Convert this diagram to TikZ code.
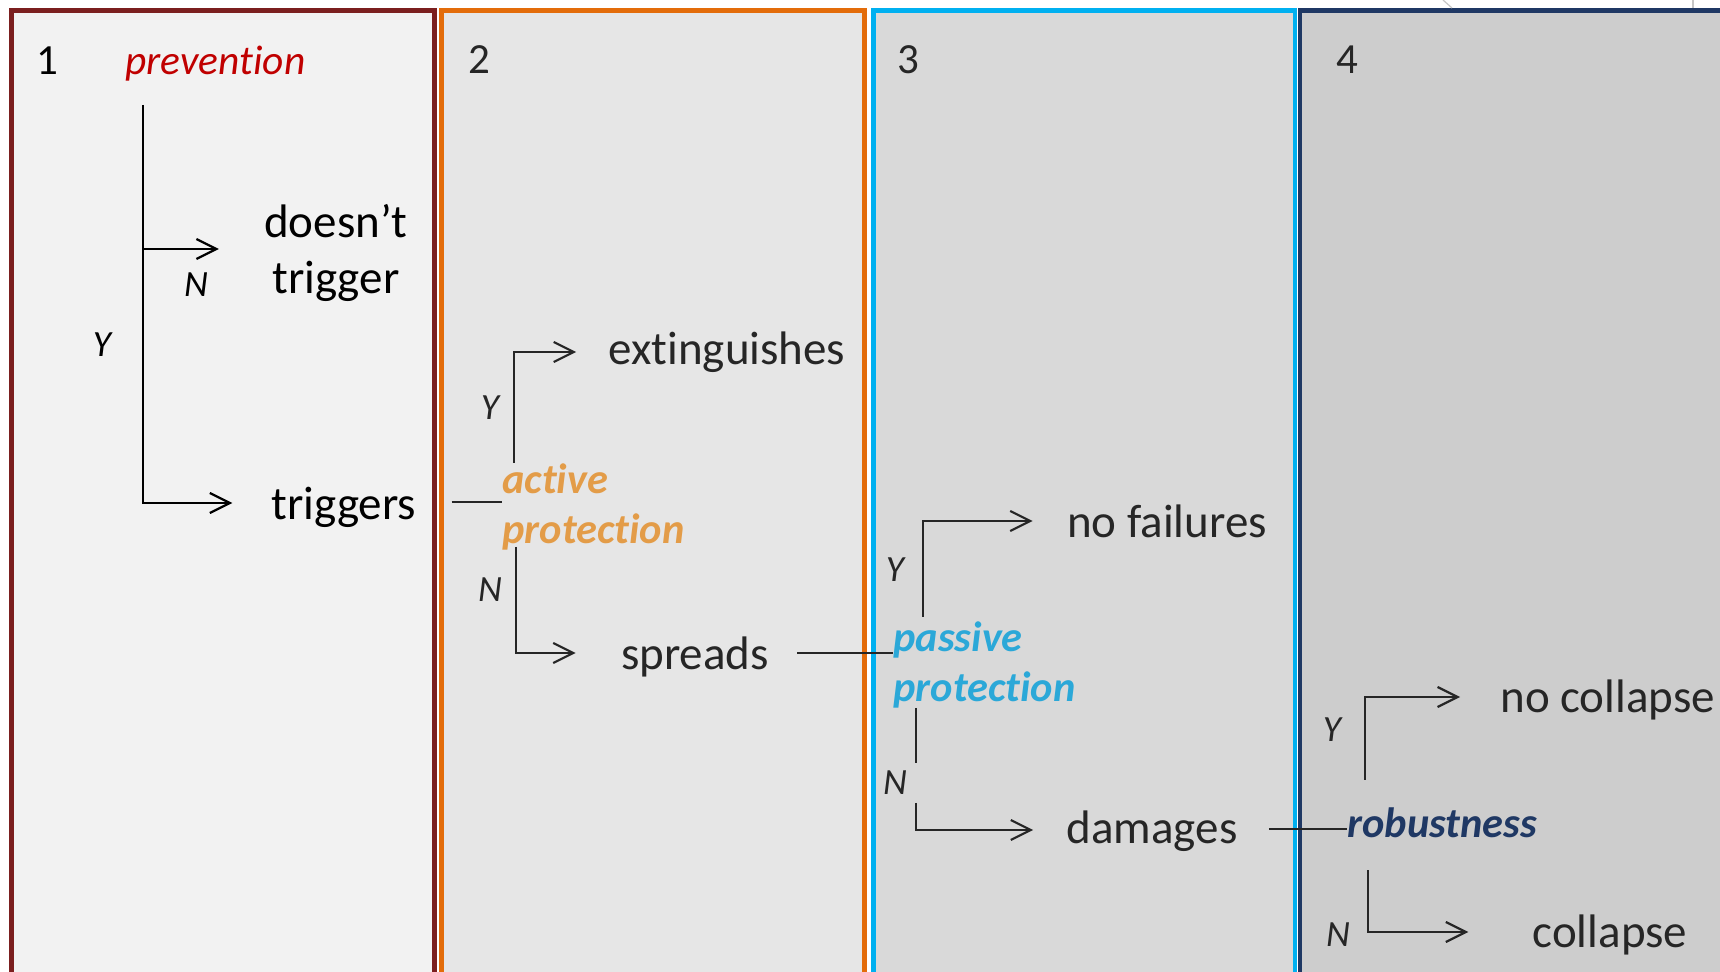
\documentclass[tikz,border=0pt]{standalone}
\usepackage{fontspec}
\setmainfont{Carlito}[Ligatures=NoCommon]
\usetikzlibrary{arrows.meta}

\definecolor{fillA}{HTML}{F2F2F2}
\definecolor{fillB}{HTML}{E6E6E6}
\definecolor{fillC}{HTML}{D9D9D9}
\definecolor{fillD}{HTML}{CDCDCD}
\definecolor{edgeA}{HTML}{7B1F1F}
\definecolor{edgeB}{HTML}{E36C0A}
\definecolor{edgeC}{HTML}{00B0F0}
\definecolor{edgeD}{HTML}{1F3864}
\definecolor{prevred}{HTML}{C00000}
\definecolor{actorange}{HTML}{E39C48}
\definecolor{passblue}{HTML}{2BA8D8}
\definecolor{robnavy}{HTML}{1F3864}
\definecolor{ink}{HTML}{262626}

\begin{document}
\begin{tikzpicture}[x=0.5pt,y=-0.5pt,
  panel/.style={line width=2.35pt},
  outcome/.style={inner sep=0pt, font=\fontsize{23.5}{28}\selectfont, text=ink},
  measure/.style={inner sep=0pt, font=\fontsize{21.2}{25}\selectfont\bfseries\itshape},
  yn/.style={inner sep=0pt, font=\fontsize{18.5}{22}\selectfont\itshape, text=ink},
  num/.style={inner sep=0pt, font=\fontsize{21.5}{24}\selectfont, text=ink},
  link/.style={line width=1.1pt, draw=ink},
  arr/.style={link, -{Straight Barb[length=10pt,width=10pt,line width=1.1pt]}}]

\useasboundingbox (0,0) rectangle (1720,972);

% four stage panels, running off the lower and right edges
\begin{scope}
  \clip (0,0) rectangle (1720,972);
  \draw[panel, draw=edgeA, fill=fillA] (11.7,10.8) rectangle (434.5,1000);
  \draw[panel, draw=edgeB, fill=fillB] (441.5,10.5) rectangle (864.5,1000);
  \draw[panel, draw=edgeC, fill=fillC] (873.5,10.5) rectangle (1295,1000);
  \draw[panel, draw=edgeD, fill=fillD] (1300,10.5) rectangle (1760,1000);
  \draw[gray!45, line width=0.6pt] (1443,0) -- (1452,8);
  \draw[gray!45, line width=0.6pt] (1693,0) -- (1693,8);
\end{scope}

% panel numbers and headings
\node[num, text=black, anchor=base] (n1) at (47,75) {1};
\node[inner sep=0pt, font=\fontsize{20.7}{24}\selectfont\itshape, text=prevred, anchor=base west] (prev) at (125,75) {prevention};
\node[num, anchor=base] (n2) at (479,74) {2};
\node[num, anchor=base] (n3) at (908,74) {3};
\node[num, anchor=base] (n4) at (1347,74) {4};

% outcomes
\node[outcome, text=black, align=center] (dt) at (336,253) {doesn’t\\trigger};
\node[outcome, text=black, anchor=base] (trig) at (344,520) {triggers};
\node[outcome, anchor=base] (ext) at (727,365) {extinguishes};
\node[outcome, anchor=base] (spr) at (695,670) {spreads};
\node[outcome, anchor=base] (nf) at (1167,538) {no failures};
\node[outcome, anchor=base] (dam) at (1152,843) {damages};
\node[outcome, anchor=base west] (nc) at (1500,713) {no collapse};
\node[outcome, anchor=base] (col) at (1610,947) {collapse};

% protection measures
\node[measure, text=actorange, anchor=base west] (ap) at (502,494)
  {\begin{tabular}[t]{@{}l@{}}active\\protection\end{tabular}};
\node[measure, text=passblue, anchor=base west] (pp) at (893,652)
  {\begin{tabular}[t]{@{}l@{}}passive\\protection\end{tabular}};
\node[measure, text=robnavy, anchor=base west] (rob) at (1347,838) {robustness};

% yes / no labels
\node[yn, text=black] (y1) at (102,345) {Y};
\node[yn, text=black] (no1) at (196,285) {N};
\node[yn] (y2) at (490,408) {Y};
\node[yn] (no2) at (490,590) {N};
\node[yn] (y3) at (895,570) {Y};
\node[yn, minimum height=19.5pt] (no3) at (895,783) {N};
\node[yn] (y4) at (1332,730) {Y};
\node[yn] (no4) at (1338,935) {N};

% branch origins and arrow ends
\coordinate (s1) at (143,105);
\coordinate (a2y) at (514,463);
\coordinate (a2n) at (516,547);
\coordinate (a3y) at (923,617);
\coordinate (a3n) at (916,708);
\coordinate (a4y) at (1365,780);
\coordinate (a4n) at (1368,870);
\coordinate (dtin) at ([yshift=2pt]dt.west);
\coordinate (trigin) at ([yshift=8.5pt]trig.base west);
\coordinate (trigout) at ([yshift=9pt]trig.base east);
\coordinate (extin) at ([yshift=6.5pt]ext.base west);
\coordinate (sprin) at ([yshift=8.5pt]spr.base west);
\coordinate (sprout) at ([yshift=8.5pt]spr.base east);
\coordinate (nfin) at ([yshift=8.5pt]nf.base west);
\coordinate (damin) at ([yshift=6.5pt]dam.base west);
\coordinate (damout) at ([yshift=7pt]dam.base east);
\coordinate (ncin) at ([yshift=8pt]nc.base west);
\coordinate (colin) at ([yshift=7.5pt]col.base west);

% stage 1
\draw[arr, draw=black, shorten >=19.5pt] (s1) |- (trigin);
\draw[arr, draw=black, shorten >=22.5pt] (s1 |- dtin) -- (dtin);

% stage 2
\draw[link, shorten <=17.5pt] (trigout) -- (trigout -| ap.west);
\draw[arr, shorten >=16pt] (a2y) |- (extin);
\draw[arr, shorten >=22.5pt] (a2n) |- (sprin);

% stage 3
\draw[link, shorten <=14pt] (sprout) -- (sprout -| pp.west);
\draw[arr, shorten >=17pt] (a3y) |- (nfin);
\draw[link] (a3n) -- (a3n |- no3.north);
\draw[arr, shorten >=16.5pt] (a3n |- no3.south) |- (damin);

% stage 4
\draw[link, shorten <=15.5pt] (damout) -- (damout -| rob.west);
\draw[arr, shorten >=20pt] (a4y) |- (ncin);
\draw[arr, shorten >=32pt] (a4n) |- (colin);

\end{tikzpicture}
\end{document}
